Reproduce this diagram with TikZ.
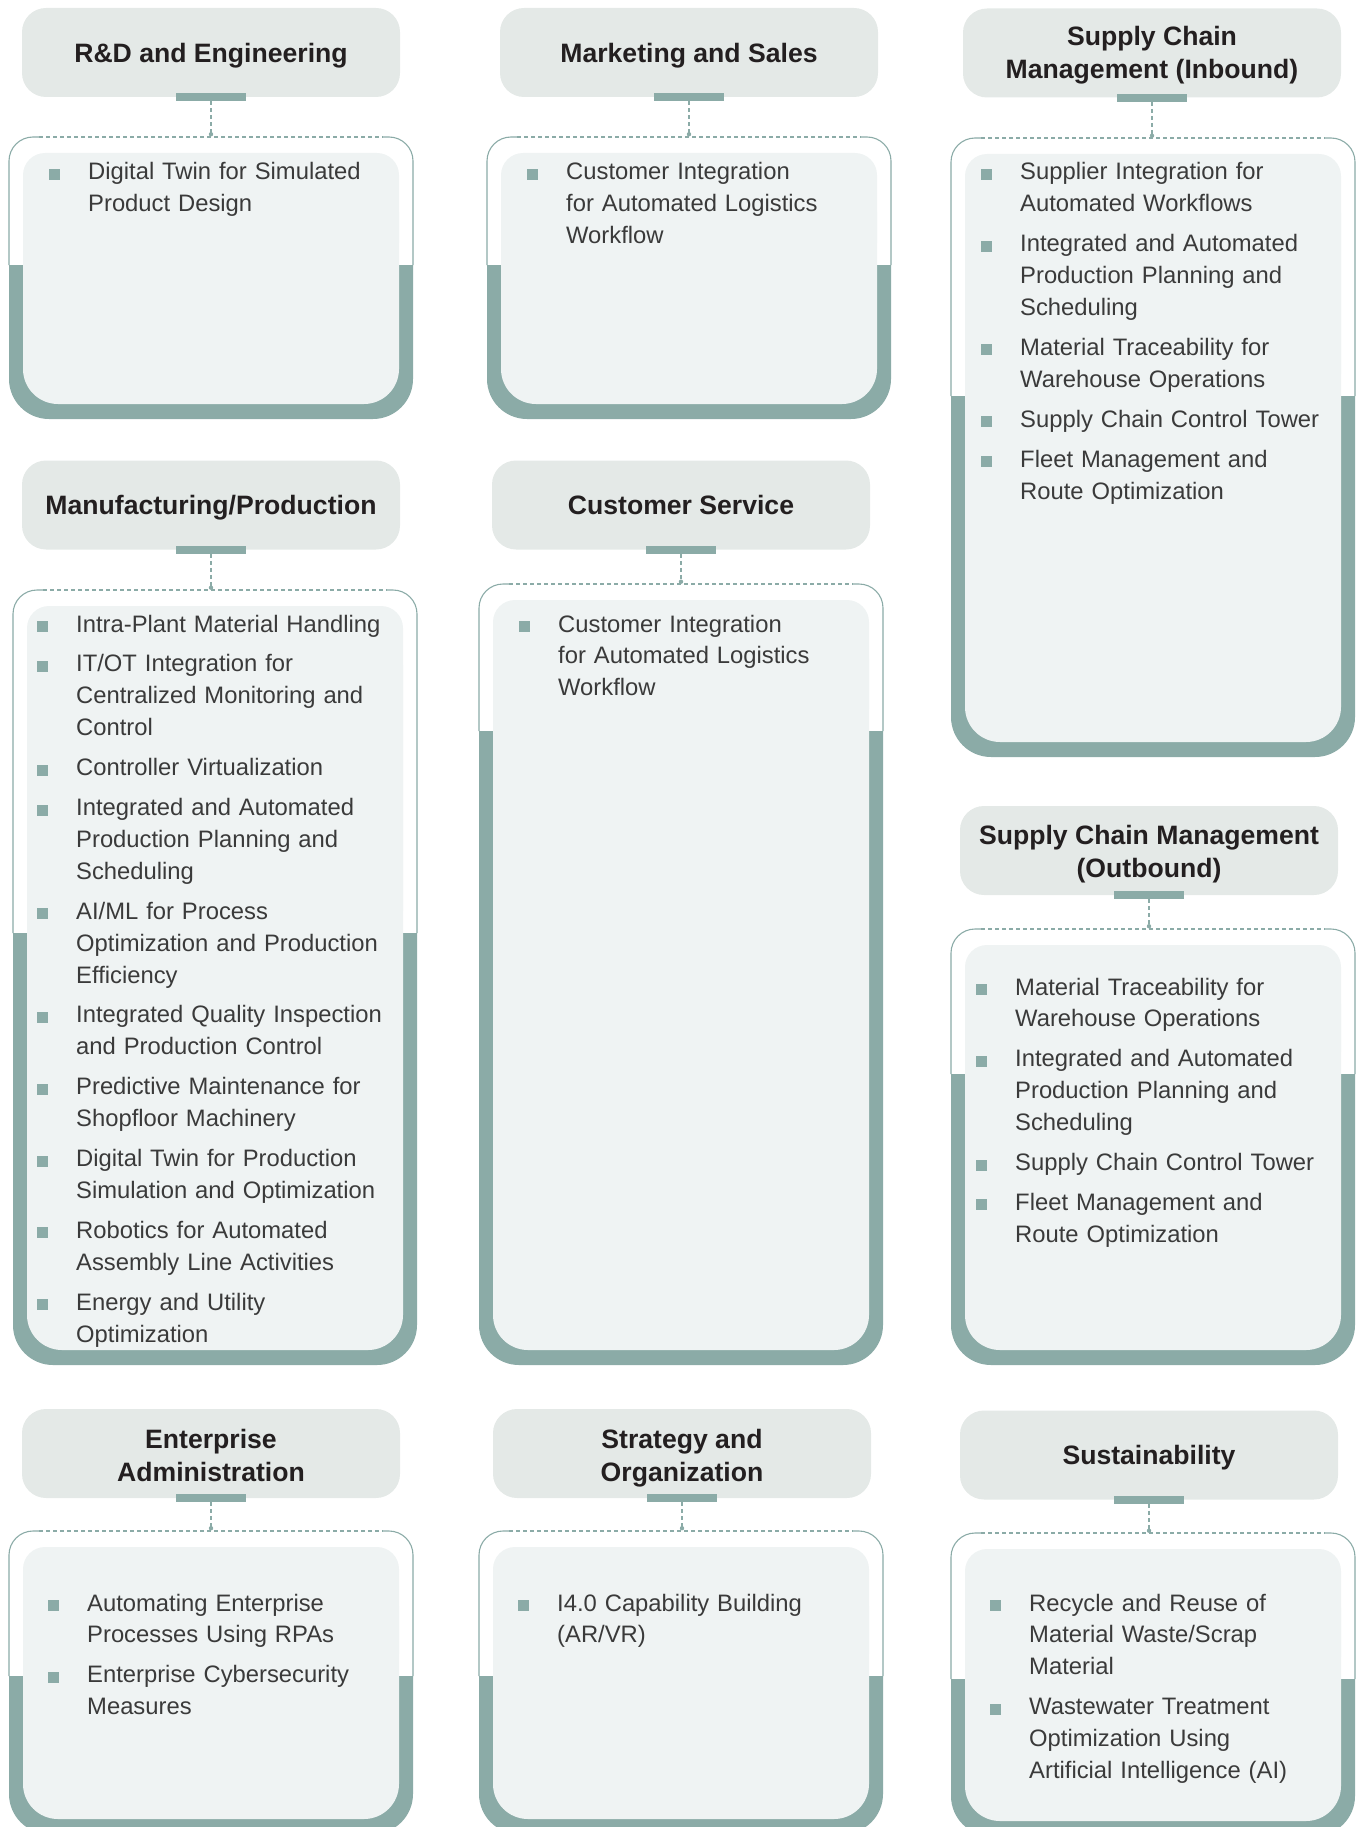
\documentclass[tikz,border=0pt]{standalone}
\usepackage{fontspec}
\setmainfont{Liberation Sans}
\definecolor{bandteal}{HTML}{8BABA7}
\definecolor{headfill}{HTML}{E4E9E7}
\definecolor{cardfill}{HTML}{EFF3F3}
\definecolor{bodyink}{HTML}{3A3A3A}
\definecolor{headink}{HTML}{231F20}
\newcommand{\bodyfont}{\fontsize{23.8pt}{31.9pt}\selectfont}
\newcommand{\headfont}{\fontsize{26.6pt}{32.6pt}\selectfont\bfseries}
\newcommand{\bitem}[1]{\par\hangindent=39pt\hangafter=1\noindent\makebox[39pt][l]{\textcolor{bandteal}{\rule{11pt}{11pt}}}#1\par\vspace{8pt}}
\tikzset{
  headbox/.style={fill=headfill,rounded corners=24pt,minimum width=378pt,minimum height=89pt,align=center,font=\headfont,text=headink,inner sep=0pt,
    execute at begin node={\rule{0pt}{25.2pt}},execute at end node={\rule[-6pt]{0pt}{0pt}}},
  textdrop/.style={execute at begin node={\rule{0pt}{#1}}},
  linkbar/.style={fill=bandteal,minimum width=70pt,minimum height=8pt,inner sep=0pt},
  linkdash/.style={draw=bandteal,line width=1.1pt,dash pattern=on 4pt off 3pt},
  cardedge/.style={draw=bandteal,line width=1.1pt},
  itemlist/.style={anchor=base west,yshift=31.9pt,text width=360pt,align=left,inner sep=0pt,font=\bodyfont,text=bodyink}
}

\begin{document}
\begin{tikzpicture}[x=1pt,y=-1pt]
  \path[use as bounding box,clip] (0,0) rectangle (1359,1827);
  % cards: left edge / top / start of band / bottom
  \foreach \xl/\yt/\yb/\ye in {9/137/265/419, 487/137/265/419, 951/138/396/757,
      13/590/933/1365, 479/584/731/1365, 951/929/1074/1365,
      9/1531/1676/1834, 479/1531/1676/1834, 951/1533/1679/1836} {
    \pgfmathsetmacro{\xr}{\xl+404}
    \begin{scope}
      \clip (\xl-2,\yb) rectangle (\xr+2,\ye+2);
      \fill[bandteal,rounded corners=40pt] (\xl,\yt) rectangle (\xr,\ye);
    \end{scope}
    \draw[cardedge,rounded corners=24pt] (\xl,\yb) -- (\xl,\yt) -- (\xl+30,\yt);
    \draw[cardedge,rounded corners=24pt] (\xr,\yb) -- (\xr,\yt) -- (\xr-30,\yt);
    \draw[cardedge,dash pattern=on 4pt off 3pt] (\xl+30,\yt) -- (\xr-30,\yt);
    \fill[cardfill,rounded corners=22pt] (\xl+14,\yt+16) rectangle (\xr-14,\yb);
    \fill[cardfill,rounded corners=35pt] (\xl+14,\yt+40) rectangle (\xr-14,\ye-15);
  }

  % headers
  \node[headbox] (rd) at (211,52.5) {R\&D and Engineering};
  \node[headbox] (mkt) at (689,52.5) {Marketing and Sales};
  \node[headbox,textdrop=56.7pt] (inb) at (1152,53) {Supply Chain\\Management (Inbound)};
  \node[headbox] (manu) at (211,505) {Manufacturing/Production};
  \node[headbox] (cs) at (681,505) {Customer Service};
  \node[headbox,textdrop=59.1pt] (outb) at (1149,850.5) {Supply Chain Management\\(Outbound)};
  \node[headbox,textdrop=62pt] (ent) at (211,1453.5) {Enterprise\\Administration};
  \node[headbox,textdrop=62pt] (strat) at (682,1453.5) {Strategy and\\Organization};
  \node[headbox] (sust) at (1149,1455) {Sustainability};

  % links from header to card
  \foreach \h/\d in {rd/37, mkt/37, inb/38, manu/38, cs/32, outb/31, ent/30, strat/30, sust/31} {
    \node[linkbar] (\h-bar) at (\h.south) {};
    \coordinate (\h-dot) at ([yshift=-\d pt]\h.south);
    \draw[linkdash] (\h-bar.south) -- (\h-dot);
    \fill[bandteal] (\h-dot) circle (2.2pt);
  }

  % lists
  \node[itemlist] (rd-list) at (49,180) {%
    \bitem{Digital Twin for Simulated\newline Product Design}};
  \node[itemlist] (mkt-list) at (527,180) {%
    \bitem{Customer Integration\newline for Automated Logistics\newline Workflow}};
  \node[itemlist] (inb-list) at (981,180) {%
    \bitem{Supplier Integration for\newline Automated Workflows}
    \bitem{Integrated and Automated\newline Production Planning and\newline Scheduling}
    \bitem{Material Traceability for\newline Warehouse Operations}
    \bitem{Supply Chain Control Tower}
    \bitem{Fleet Management and\newline Route Optimization}};
  \node[itemlist] (manu-list) at (37,632) {%
    \bitem{Intra-Plant Material Handling}
    \bitem{IT/OT Integration for\newline Centralized Monitoring and\newline Control}
    \bitem{Controller Virtualization}
    \bitem{Integrated and Automated\newline Production Planning and\newline Scheduling}
    \bitem{AI/ML for Process\newline Optimization and Production\newline Efficiency}
    \bitem{Integrated Quality Inspection\newline and Production Control}
    \bitem{Predictive Maintenance for\newline Shopfloor Machinery}
    \bitem{Digital Twin for Production\newline Simulation and Optimization}
    \bitem{Robotics for Automated\newline Assembly Line Activities}
    \bitem{Energy and Utility\newline Optimization}};
  \node[itemlist] (cs-list) at (519,632) {%
    \bitem{Customer Integration\newline for Automated Logistics\newline Workflow}};
  \node[itemlist] (outb-list) at (976,995) {%
    \bitem{Material Traceability for\newline Warehouse Operations}
    \bitem{Integrated and Automated\newline Production Planning and\newline Scheduling}
    \bitem{Supply Chain Control Tower}
    \bitem{Fleet Management and\newline Route Optimization}};
  \node[itemlist] (ent-list) at (48,1611) {%
    \bitem{Automating Enterprise\newline Processes Using RPAs}
    \bitem{Enterprise Cybersecurity\newline Measures}};
  \node[itemlist] (strat-list) at (518,1611) {%
    \bitem{I4.0 Capability Building\newline (AR/VR)}};
  \node[itemlist] (sust-list) at (990,1611) {%
    \bitem{Recycle and Reuse of\newline Material Waste/Scrap\newline Material}
    \bitem{Wastewater Treatment\newline Optimization Using\newline Artificial Intelligence (AI)}};
\end{tikzpicture}
\end{document}
